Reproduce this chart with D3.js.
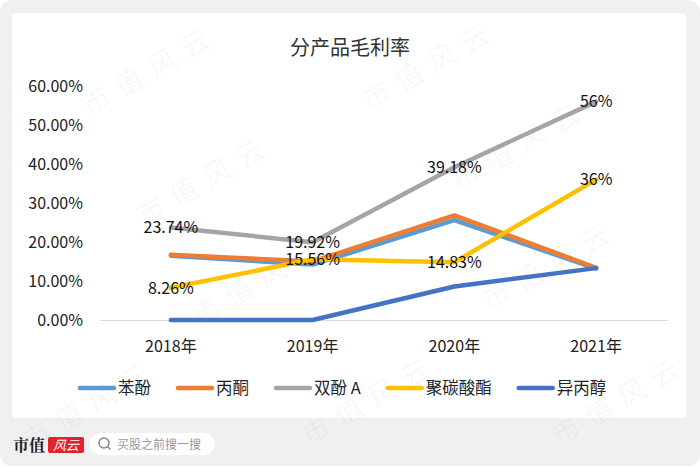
<!DOCTYPE html>
<html><head><meta charset="utf-8">
<script src="https://cdn.jsdelivr.net/npm/d3@7"></script>
<style>
html,body{margin:0;padding:0;background:#fff;}
svg{display:block;font-family:"Noto Sans CJK SC","Noto Sans",sans-serif;}
</style></head>
<body><svg id="c" width="700" height="467"></svg>
<script>
const title = "分产品毛利率";
const years = ["2018年","2019年","2020年","2021年"];
const seriesNames = ["苯酚","丙酮","双酚 A","聚碳酸酯","异丙醇"];
const seriesColors = ["#5B9BD5","#ED7D31","#A5A5A5","#FFC000","#4472C4"];
const phenol = [0.165, 0.142, 0.256, 0.132];
const acetone = [0.167, 0.150, 0.268, 0.134];
const bpa = [0.2374, 0.1992, 0.3918, 0.56];
const pc = [0.0826, 0.1556, 0.1483, 0.36];
const ipa = [0.0, 0.0, 0.086, 0.133];
const labelsBpa = ["23.74%","19.92%","39.18%","56%"];
const labelsPc = ["8.26%","15.56%","14.83%","36%"];
const yTicks = [0,0.1,0.2,0.3,0.4,0.5,0.6];
const watermarkText = "市值风云";
const footerBrand = "市值";
const footerLogo = "风云";
const footerSearch = "买股之前搜一搜";

const allSeries = [phenol, acetone, bpa, pc, ipa];
const svg = d3.select("#c");

// background
svg.append("rect").attr("x",0).attr("y",0).attr("width",700).attr("height",466).attr("rx",12).attr("fill","#f0f0f0");
svg.append("rect").attr("x",12).attr("y",13).attr("width",674).attr("height",405).attr("rx",4).attr("fill","#ffffff");

const x = d3.scaleBand().domain(years).range([100,667]);
const y = d3.scaleLinear().domain([0,0.6]).range([320,86]);
const cx = d => x(d) + x.bandwidth()/2;

// watermarks (faint, drawn beneath the chart)
const wm = [[150,70],[430,65],[205,180],[520,145],[260,280],[550,265],[90,405],[370,400],[620,400]];
svg.append("g").selectAll("text").data(wm).join("text")
  .attr("transform",d=>`translate(${d[0]},${d[1]}) rotate(-30)`)
  .attr("text-anchor","middle").attr("dy","0.35em")
  .attr("font-size",28).attr("letter-spacing",10)
  .attr("fill","#000").attr("fill-opacity",0.035).text(watermarkText);

// title
svg.append("text").attr("x",350).attr("y",55).attr("text-anchor","middle")
  .attr("font-size",20).attr("fill","#333").text(title);

// y axis labels
const yAxis = d3.axisLeft(y).tickValues(yTicks).tickFormat(d3.format(".2%")).tickSize(0).tickPadding(0);
const yg = svg.append("g").attr("transform","translate(83,0)").call(yAxis);
yg.select(".domain").remove();
yg.selectAll("text").attr("font-size",16).attr("fill","#222").attr("font-family","\"Noto Sans CJK SC\",sans-serif");

// x axis
const xAxis = d3.axisBottom(x).tickSize(0).tickPadding(21);
const xg = svg.append("g").attr("transform","translate(0,320)").call(xAxis);
xg.select(".domain").attr("stroke","#d9d9d9").attr("stroke-width",1.2);
xg.selectAll("text").attr("font-size",16).attr("fill","#222").attr("font-family","\"Noto Sans CJK SC\",sans-serif");

// lines
const line = d3.line().x((d,i)=>cx(years[i])).y(d=>y(d));
allSeries.forEach((s,i)=>{
  svg.append("path").attr("d",line(s)).attr("fill","none")
    .attr("stroke",seriesColors[i]).attr("stroke-width",4.5)
    .attr("stroke-linejoin","round").attr("stroke-linecap","round");
});

// data labels
function addLabels(vals, labels){
  svg.append("g").selectAll("text").data(vals).join("text")
    .attr("x",(d,i)=>cx(years[i])).attr("y",d=>y(d))
    .attr("dy","0.36em").attr("text-anchor","middle")
    .attr("font-size",16).attr("fill","#111").text((d,i)=>labels[i]);
}
addLabels(bpa, labelsBpa);
addLabels(pc, labelsPc);

// legend
const lg = svg.append("g");
let lx = 0;
seriesNames.forEach((n,i)=>{
  const g = lg.append("g").attr("transform",`translate(${lx},0)`);
  g.append("line").attr("x1",0).attr("x2",34).attr("y1",0).attr("y2",0)
    .attr("stroke",seriesColors[i]).attr("stroke-width",4.5).attr("stroke-linecap","round");
  const t = g.append("text").attr("x",38).attr("y",0).attr("dy","0.36em")
    .attr("font-size",16.5).attr("fill","#222").text(n);
  const w = t.node().getComputedTextLength();
  lx += 38 + w + 27;
});
lg.attr("transform",`translate(80,388)`);

// footer
svg.append("text").attr("x",13).attr("y",451).attr("font-size",16).attr("font-weight","bold")
  .attr("fill","#222").attr("font-family","\"Noto Serif CJK SC\",\"Noto Sans CJK SC\",serif").text(footerBrand);
svg.append("rect").attr("x",48).attr("y",437).attr("width",36).attr("height",16).attr("rx",2).attr("fill","#e3232c");
svg.append("text").attr("x",66).attr("y",450).attr("text-anchor","middle").attr("font-size",13)
  .attr("font-style","italic").attr("fill","#fff").text(footerLogo);
svg.append("rect").attr("x",90).attr("y",433).attr("width",125).attr("height",22).attr("rx",11).attr("fill","#fff");
svg.append("circle").attr("cx",104).attr("cy",443).attr("r",5).attr("fill","none").attr("stroke","#888").attr("stroke-width",1.5);
svg.append("line").attr("x1",107.5).attr("y1",446.5).attr("x2",110.5).attr("y2",449.5).attr("stroke","#888").attr("stroke-width",1.5);
svg.append("text").attr("x",117).attr("y",448.5).attr("font-size",12).attr("fill","#999").text(footerSearch);
</script></body></html>
